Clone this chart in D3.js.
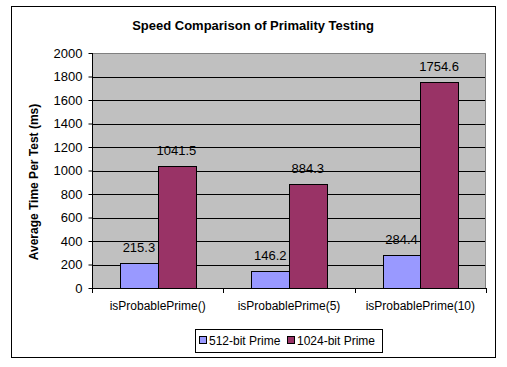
<!DOCTYPE html>
<html><head><meta charset="utf-8">
<script src="https://cdn.jsdelivr.net/npm/d3@7"></script>
<style>body{margin:0;background:#fff}svg{display:block}text{font-family:"Liberation Sans",Arial,sans-serif}</style>
</head><body><svg id="c" width="507" height="367"></svg>
<script>
const categories = ["isProbablePrime()", "isProbablePrime(5)", "isProbablePrime(10)"];
const seriesNames = ["512-bit Prime", "1024-bit Prime"];
const series512 = [215.3, 146.2, 284.4];
const series1024 = [1041.5, 884.3, 1754.6];
const yTicks = [0, 200, 400, 600, 800, 1000, 1200, 1400, 1600, 1800, 2000];
const colors = ["#9999FF", "#993366"];
const title = "Speed Comparison of Primality Testing";
const yTitle = "Average Time Per Test (ms)";

const svg = d3.select("#c");
const L = 92, R = 486, T = 53, B = 288;

svg.append("rect").attr("x", 11.5).attr("y", 6.5).attr("width", 484).attr("height", 351)
  .attr("fill", "#fff").attr("stroke", "#000");

const x0 = d3.scaleBand().domain(categories).range([L, R]);
const y = d3.scaleLinear().domain([0, 2000]).range([B, T]);
const bw = x0.bandwidth() / 3.5;
const x1 = d3.scaleBand().domain(seriesNames).range([0, 2 * bw]);
const off = (x0.bandwidth() - 2 * bw) / 2;

svg.append("rect").attr("x", L).attr("y", T).attr("width", R - L).attr("height", B - T).attr("fill", "#C0C0C0");

// gridlines
svg.append("g").selectAll("line").data(yTicks.filter(v => v > 0 && v < 2000)).join("line")
  .attr("x1", L).attr("x2", R).attr("y1", d => Math.round(y(d)) + 0.5).attr("y2", d => Math.round(y(d)) + 0.5)
  .attr("stroke", "#000");
// plot border top/right
svg.append("path").attr("d", `M${L},${T + 0.5}H${R - 0.5}V${B}`).attr("fill", "none").attr("stroke", "#808080");

const data = categories.map((c, i) => ({ c, vals: [series512[i], series1024[i]] }));
const g = svg.append("g");
data.forEach(d => {
  d.vals.forEach((v, j) => {
    const xx = x0(d.c) + off + x1(seriesNames[j]);
    g.append("rect").attr("x", Math.round(xx) + 0.5).attr("y", Math.round(y(v)) + 0.5)
      .attr("width", Math.round(bw)).attr("height", Math.round(B - y(v)))
      .attr("fill", colors[j]).attr("stroke", "#000");
    g.append("text").attr("x", xx + bw / 2).attr("y", y(v) - 11).attr("text-anchor", "middle")
      .attr("font-size", 13).text(v.toFixed(1));
  });
});

// y axis
const ya = svg.append("g").attr("transform", `translate(${L + 0.5},0)`)
  .call(d3.axisLeft(y).tickValues(yTicks).tickSize(4).tickPadding(6).tickFormat(d3.format("d")));
ya.selectAll("path,line").attr("stroke", "#000");
ya.select("path").attr("d", `M0,${T}V${B}`);
ya.selectAll("text").attr("font-size", 13).attr("font-family", "Liberation Sans, Arial, sans-serif").attr("fill", "#000");

// x axis
const xa = svg.append("g").attr("transform", `translate(0,${B + 0.5})`)
  .call(d3.axisBottom(x0).tickSize(0).tickPadding(13));
xa.select("path").attr("d", `M${L},0H${R}`).attr("stroke", "#000");
xa.selectAll("text").attr("font-size", 12).attr("font-family", "Liberation Sans, Arial, sans-serif").attr("fill", "#000");
svg.append("g").selectAll("line").data([...categories.map(c => x0(c)), R]).join("line")
  .attr("x1", d => Math.round(d) + 0.5).attr("x2", d => Math.round(d) + 0.5)
  .attr("y1", B).attr("y2", B + 5).attr("stroke", "#000");

// titles
svg.append("text").attr("x", 253).attr("y", 30).attr("text-anchor", "middle")
  .attr("font-size", 13).attr("font-weight", "bold").text(title);
svg.append("text").attr("transform", "translate(38,182) rotate(-90)").attr("text-anchor", "middle")
  .attr("font-size", 12).attr("font-weight", "bold").text(yTitle);

// legend
const lg = svg.append("g");
lg.append("rect").attr("x", 195.5).attr("y", 329.5).attr("width", 187).attr("height", 23).attr("fill", "#fff").attr("stroke", "#000");
const lx = [199, 287];
seriesNames.forEach((s, j) => {
  lg.append("rect").attr("x", lx[j] + 0.5).attr("y", 336.5).attr("width", 7).attr("height", 7)
    .attr("fill", colors[j]).attr("stroke", "#000");
  lg.append("text").attr("x", lx[j] + 10).attr("y", 345).attr("font-size", 12).text(s);
});
</script></body></html>
